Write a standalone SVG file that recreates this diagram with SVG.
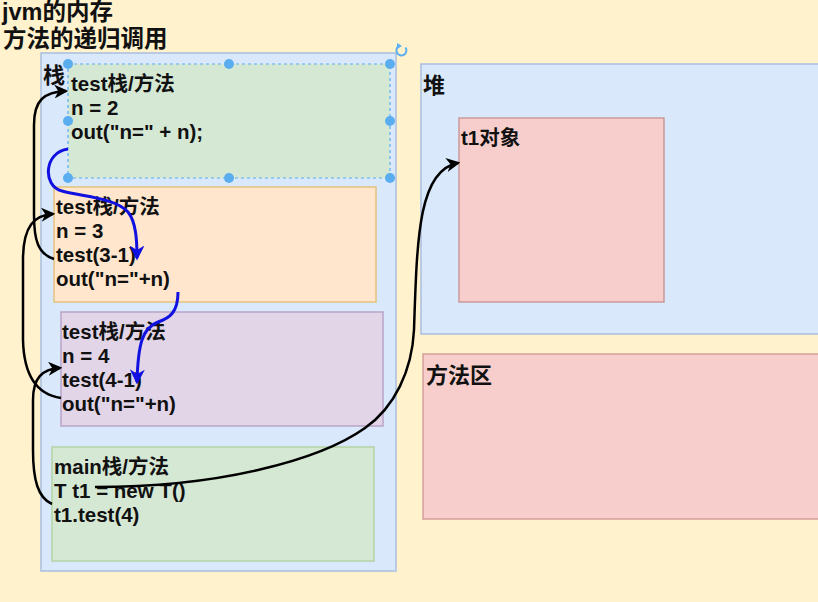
<svg xmlns="http://www.w3.org/2000/svg" width="818" height="602" viewBox="0 0 818 602">
<style>
text{font-family:"Liberation Sans","Noto Sans CJK SC",sans-serif;font-weight:bold;fill:#111}
.t{font-size:20.5px}
.h{font-size:22px}
.title{font-size:23.5px}
.blk{fill:none;stroke:#000;stroke-width:2.5}
.blu{fill:none;stroke:#1010e0;stroke-width:3}
.hd{fill:#5aaef0;stroke:none}
</style>
<defs>
<marker id="ab" viewBox="0 0 12 12" refX="10" refY="6" markerWidth="14" markerHeight="14" markerUnits="userSpaceOnUse" orient="auto">
<path d="M0,0 L12,6 L0,12 L3.5,6 z" fill="#000"/>
</marker>
<marker id="au" viewBox="0 0 12 12" refX="10" refY="6" markerWidth="15" markerHeight="15" markerUnits="userSpaceOnUse" orient="auto">
<path d="M0,0 L12,6 L0,12 L3.5,6 z" fill="#1010e0"/>
</marker>
</defs>
<rect x="0" y="0" width="818" height="602" fill="#fff2cc"/>
<g id="title">
<text class="title" x="2" y="20">jvm的内存</text>
<text class="title" x="3" y="47">方法的递归调用</text>
</g>
<g id="stack">
<rect x="41" y="53" width="355" height="518" fill="#dae8fc" stroke="#a9bfe0" stroke-width="1.5"/>
<text class="h" x="43" y="83">栈</text>
</g>
<g id="frame1">
<rect x="68" y="64" width="322" height="114" fill="#d5e8d4" stroke="#5aaef0" stroke-width="1.2" stroke-dasharray="3,3"/>
<text class="t" x="71" y="91">test栈/方法</text>
<text class="t" x="71" y="115">n = 2</text>
<text class="t" x="71" y="139">out("n=" + n);</text>
</g>
<g id="frame2">
<rect x="54" y="187" width="322" height="115" fill="#ffe6cc" stroke="#e3c27f" stroke-width="1.5"/>
<text class="t" x="56" y="214">test栈/方法</text>
<text class="t" x="56" y="238">n = 3</text>
<text class="t" x="56" y="262">test(3-1)</text>
<text class="t" x="56" y="286">out("n="+n)</text>
</g>
<g id="frame3">
<rect x="61" y="312" width="322" height="114" fill="#e1d5e7" stroke="#b9a3c6" stroke-width="1.5"/>
<text class="t" x="62" y="339">test栈/方法</text>
<text class="t" x="62" y="363">n = 4</text>
<text class="t" x="62" y="387">test(4-1)</text>
<text class="t" x="62" y="411">out("n="+n)</text>
</g>
<g id="main">
<rect x="52" y="447" width="322" height="114" fill="#d5e8d4" stroke="#b5d4a3" stroke-width="1.5"/>
<text class="t" x="54" y="474">main栈/方法</text>
<text class="t" x="54" y="498">T t1 = new T()</text>
<text class="t" x="54" y="522">t1.test(4)</text>
</g>
<g id="heap">
<rect x="421" y="64" width="400" height="270" fill="#dae8fc" stroke="#a9bfe0" stroke-width="1.5"/>
<text class="h" x="423" y="93">堆</text>
</g>
<g id="t1obj">
<rect x="459" y="118" width="205" height="184" fill="#f8cecc" stroke="#c99a9a" stroke-width="1.5"/>
<text class="t" x="461" y="145">t1对象</text>
</g>
<g id="methodarea">
<rect x="423" y="354" width="400" height="165" fill="#f8cecc" stroke="#d2a09a" stroke-width="1.5"/>
<text class="h" x="426" y="383">方法区</text>
</g>
<g id="selection">
<circle class="hd" cx="68" cy="64" r="5"/>
<circle class="hd" cx="229" cy="64" r="5"/>
<circle class="hd" cx="390" cy="64" r="5"/>
<circle class="hd" cx="68" cy="121" r="5"/>
<circle class="hd" cx="390" cy="121" r="5"/>
<circle class="hd" cx="68" cy="178" r="5"/>
<circle class="hd" cx="229" cy="178" r="5"/>
<circle class="hd" cx="390" cy="178" r="5"/>
<path d="M405.5,47.5 A5,5 0 1 1 399,46" fill="none" stroke="#5aaef0" stroke-width="2"/>
<path d="M397,43 L402,46 L397,49 z" fill="#5aaef0"/>
</g>
<g id="connectors">
<path class="blk" d="M54,259 C38,254 34,240 34,215 L34,125 C34,100 44,92 66,91" marker-end="url(#ab)"/>
<path class="blk" d="M61,398 C40,395 24,380 23,340 L23,260 C23,225 35,215 53,214" marker-end="url(#ab)"/>
<path class="blk" d="M52,504 C38,498 33,480 33,450 L33,400 C33,378 42,369 60,368" marker-end="url(#ab)"/>
<path class="blk" d="M95,487 C220,487 320,460 365,428 C395,407 412,370 414,330 C417,240 418,170 458,163" marker-end="url(#ab)"/>
<path class="blu" d="M68,149 C44,152 42,186 62,191 C85,197 115,198 128,212 C136,222 137,240 137,258" marker-end="url(#au)"/>
<path class="blu" d="M178,292 C178,312 170,318 158,322 C142,328 138,345 137,382" marker-end="url(#au)"/>
</g>
</svg>
